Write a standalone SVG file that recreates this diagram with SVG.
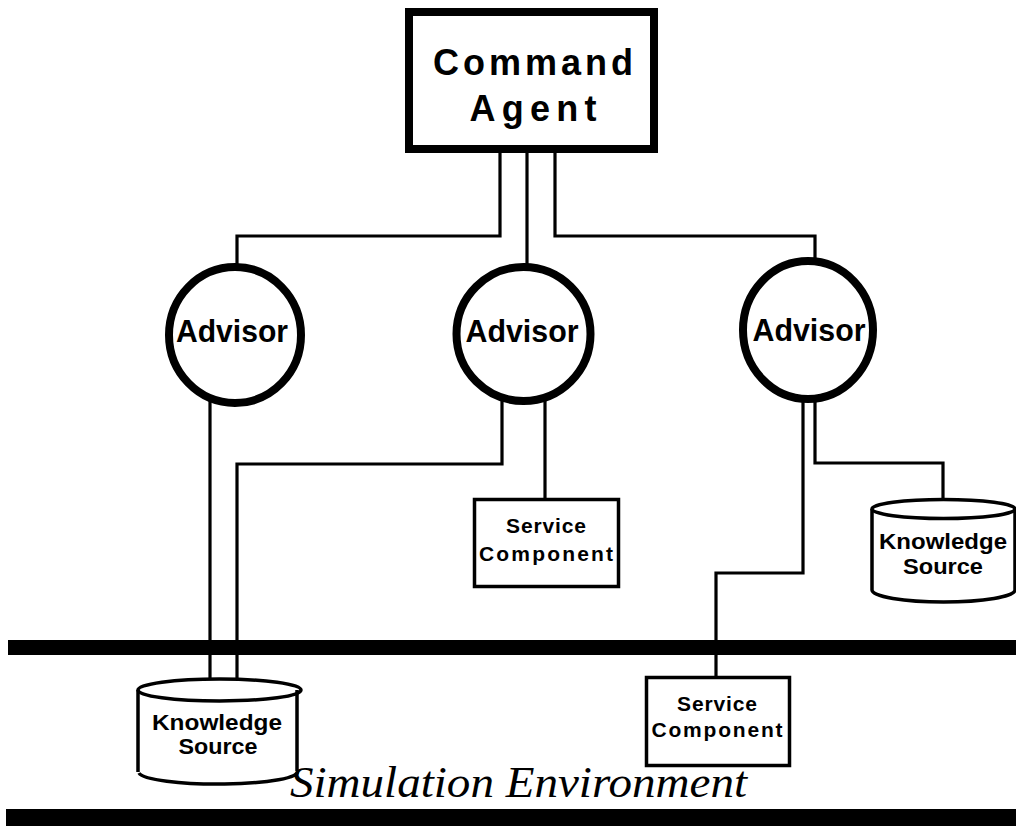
<svg xmlns="http://www.w3.org/2000/svg" width="1016" height="833" viewBox="0 0 1016 833">
<style>
.conn{fill:none;stroke:#000;stroke-width:3.2;stroke-linejoin:miter}
.adv{fill:#fff;stroke:#000;stroke-width:8}
.box{fill:#fff;stroke:#000}
.cyl{fill:#fff;stroke:#000;stroke-width:3.5}
.lbl{font-family:"Liberation Sans",Arial,sans-serif;font-weight:bold;fill:#000;text-anchor:middle}
.bar{fill:#000}
</style>
<rect width="1016" height="833" fill="#fff"/>
<g id="bars">
<rect class="bar" x="8" y="640" width="1008" height="15"/>
<rect class="bar" x="6" y="809" width="1010" height="17"/>
</g>
<g id="connectors">
<polyline class="conn" points="500,150 500,236 237,236 237,266"/>
<polyline class="conn" points="527,150 527,266"/>
<polyline class="conn" points="555,150 555,236 815,236 815,262"/>
<polyline class="conn" points="210,400 210,690"/>
<polyline class="conn" points="502,400 502,464 237,464 237,690"/>
<polyline class="conn" points="545,400 545,498"/>
<polyline class="conn" points="803,398 803,573 716,573 716,687"/>
<polyline class="conn" points="815,398 815,463 943,463 943,510"/>
</g>
<g id="command-agent">
<rect class="box" x="409" y="12" width="245" height="137" stroke-width="8"/>
<text class="lbl" x="533" y="75" font-size="36" textLength="200" lengthAdjust="spacing">Command</text>
<text class="lbl" x="533" y="121" font-size="36" textLength="127" lengthAdjust="spacing">Agent</text>
</g>
<g id="advisor-1">
<ellipse class="adv" cx="235" cy="335" rx="66" ry="68"/>
<text class="lbl" x="232" y="342" font-size="32" textLength="112" lengthAdjust="spacingAndGlyphs">Advisor</text>
</g>
<g id="advisor-2">
<ellipse class="adv" cx="523.5" cy="334" rx="67" ry="67"/>
<text class="lbl" x="522" y="342" font-size="32" textLength="113" lengthAdjust="spacingAndGlyphs">Advisor</text>
</g>
<g id="advisor-3">
<ellipse class="adv" cx="808" cy="330" rx="65" ry="69"/>
<text class="lbl" x="809" y="341" font-size="32" textLength="113" lengthAdjust="spacingAndGlyphs">Advisor</text>
</g>
<g id="service-component-1">
<rect class="box" x="474.5" y="499.5" width="144" height="87" stroke-width="3.5"/>
<text class="lbl" x="546" y="533" font-size="21" textLength="80" lengthAdjust="spacing">Service</text>
<text class="lbl" x="546" y="561" font-size="21" textLength="134" lengthAdjust="spacing">Component</text>
</g>
<g id="knowledge-source-2">
<path class="cyl" d="M872,509 A71.5,9.5 0 0 1 1015,509 A71.5,9.5 0 0 1 872,509 Z"/>
<path class="cyl" d="M872,509 L872,590 M1015,509 L1015,590"/>
<path class="cyl" d="M872,590 A71.5,12 0 0 0 1015,590"/>
<text class="lbl" x="943" y="549" font-size="22" textLength="128" lengthAdjust="spacingAndGlyphs">Knowledge</text>
<text class="lbl" x="943" y="574" font-size="22" textLength="80" lengthAdjust="spacingAndGlyphs">Source</text>
</g>
<g id="knowledge-source-1">
<path class="cyl" d="M138,690 A81.5,11 0 0 1 301,690 A81.5,11 0 0 1 138,690 Z"/>
<path class="cyl" d="M138,690 L138,772 M297,690 L297,771"/>
<path class="cyl" d="M139,773 A79,12 0 0 0 297,771"/>
<text class="lbl" x="217" y="730" font-size="22" textLength="130" lengthAdjust="spacingAndGlyphs">Knowledge</text>
<text class="lbl" x="218" y="754" font-size="22" textLength="79" lengthAdjust="spacingAndGlyphs">Source</text>
</g>
<g id="service-component-2">
<rect class="box" x="646.5" y="677.5" width="143" height="88" stroke-width="3.5"/>
<text class="lbl" x="717" y="711" font-size="21" textLength="80" lengthAdjust="spacing">Service</text>
<text class="lbl" x="717" y="737" font-size="21" textLength="131" lengthAdjust="spacing">Component</text>
</g>
<text x="290" y="797" font-family="'Liberation Serif','Times New Roman',serif" font-style="italic" font-size="45" textLength="457" lengthAdjust="spacingAndGlyphs" fill="#000">Simulation Environment</text>
</svg>
